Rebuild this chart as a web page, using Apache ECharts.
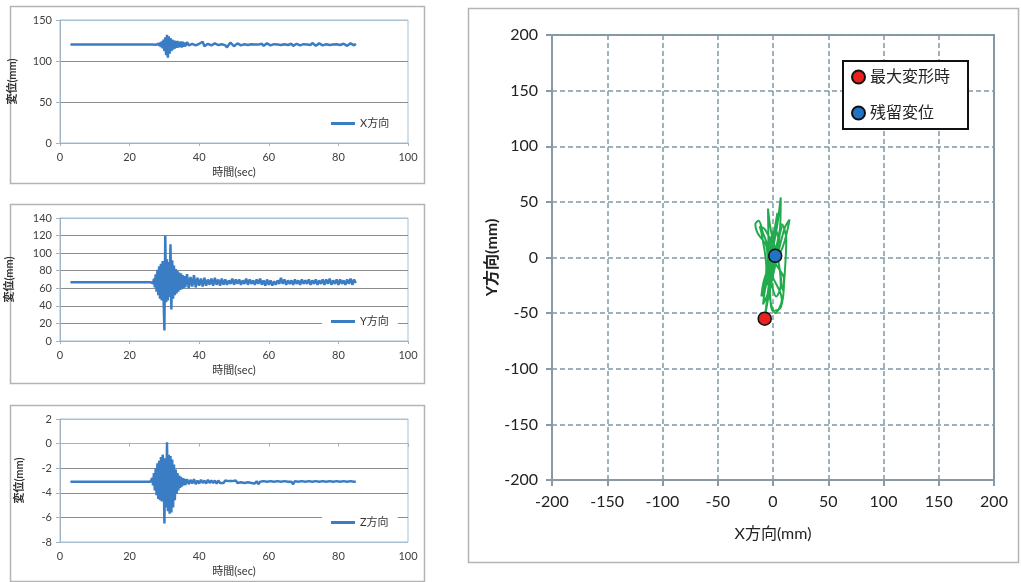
<!DOCTYPE html>
<html>
<head>
<meta charset="utf-8">
<script src="https://cdn.jsdelivr.net/npm/echarts@6/dist/echarts.min.js"></script>
<style>
  html, body { margin: 0; padding: 0; background: #fff; }
  #chart { width: 1021px; height: 582px; }
</style>
</head>
<body>
<div id="chart"></div>
<script>
// 時刻 (sec)
const timeSec = [3, 26,
  26.25, 26.5, 26.75, 27, 27.25, 27.5, 27.75, 28, 28.25, 28.5,
  28.75, 29, 29.25, 29.5, 29.75, 30, 30.25, 30.5, 30.75, 31,
  31.25, 31.5, 31.75, 32, 32.25, 32.5, 32.75, 33, 33.25, 33.5,
  33.75, 34, 34.25, 34.5, 34.75, 35, 35.25, 35.5, 35.75, 36,
  36.5, 37, 37.5, 38, 38.5, 39, 39.5, 40, 40.5, 41,
  41.5, 42, 42.5, 43, 43.5, 44, 44.5, 45, 45.5, 46,
  46.5, 47, 47.5, 48, 48.5, 49, 49.5, 50, 50.5, 51,
  51.5, 52, 52.5, 53, 53.5, 54, 54.5, 55, 55.5, 56,
  56.5, 57, 57.5, 58, 58.5, 59, 59.5, 60, 60.5, 61,
  61.5, 62, 62.5, 63, 63.5, 64, 64.5, 65, 65.5, 66,
  66.5, 67, 67.5, 68, 68.5, 69, 69.5, 70, 70.5, 71,
  71.5, 72, 72.5, 73, 73.5, 74, 74.5, 75, 75.5, 76,
  76.5, 77, 77.5, 78, 78.5, 79, 79.5, 80, 80.5, 81,
  81.5, 82, 82.5, 83, 83.5, 84, 84.5, 85]

// X方向 変位 (mm)
const xDisp = [120, 120,
  120, 120, 120, 120, 120.3, 119.7, 120.6, 119.3, 121, 118.5,
  122.5, 117, 124, 115.5, 126, 112, 129, 107, 132, 104,
  130, 109, 128, 112, 126, 114, 125, 115, 124.5, 116,
  124.5, 116.5, 123.5, 117, 124, 116.5, 123.5, 117.5, 122.5, 118,
  123, 119, 117.5, 121, 122.5, 119, 118, 121, 122, 123.5,
  118, 116.5, 121, 122.5, 119, 118, 121.5, 122, 119.5, 118,
  120.5, 122, 119, 116.5, 120, 122.5, 121, 118, 118.5, 121.5,
  122, 119, 118.5, 120.5, 121.5, 119.5, 118.5, 120.5, 122, 120,
  118.5, 120, 122, 121, 118.5, 119, 121.5, 121.5, 119, 118.5,
  120.5, 121.5, 120, 118.5, 119.5, 121.5, 120.5, 118.5, 119.5, 121.5,
  121, 118.5, 119, 121, 121.5, 119, 118.5, 120.5, 121.5, 120,
  118.5, 119.5, 122, 121, 118.5, 119, 121.5, 121, 119, 118.5,
  120.5, 121.5, 119.5, 118.5, 120, 121.5, 120.5, 118.5, 119.5, 121.5,
  121, 119, 118.5, 120.5, 121.5, 120, 119, 121]

// Y方向 変位 (mm)
const yDisp = [67, 67,
  67, 68, 65.5, 71, 61, 76, 56, 81, 52, 85,
  48, 88, 46, 91, 50, 12, 120, 44, 93, 46,
  90, 50, 110, 36, 92, 48, 86, 52, 82, 54,
  80, 56, 78, 58, 77, 59, 75, 60, 74, 61,
  76, 60, 73, 62, 75, 61, 72, 63, 71, 62,
  72, 63, 70, 64, 71, 63, 72, 64, 70, 63,
  71, 64, 70, 64, 69, 65, 71, 64, 70, 65,
  70, 64, 69, 65, 71, 64, 70, 65, 69, 64,
  70, 65, 71, 64, 69, 63, 70, 64, 69, 63,
  68, 64, 69, 65, 72, 65, 70, 64, 69, 65,
  69, 64, 70, 65, 69, 64, 70, 65, 69, 65,
  70, 64, 69, 65, 70, 64, 69, 65, 70, 64,
  70, 65, 71, 64, 69, 65, 70, 64, 70, 65,
  69, 64, 70, 65, 71, 64, 70, 66]

// Z方向 変位 (mm)
const zDisp = [-3.1, -3.1,
  -3.1, -2.8, -3.4, -2.4, -3.8, -2.0, -4.2, -1.6, -4.5, -1.4,
  -4.6, -1.1, -4.7, -0.9, -1.6, -6.5, -1.2, -5.2, 0.1, -5.5,
  -0.9, -5.7, -1.0, -5.6, -1.3, -5.2, -1.7, -4.6, -2.1, -4.1,
  -2.4, -3.8, -2.6, -3.6, -2.7, -3.5, -2.8, -3.4, -2.85, -3.35,
  -2.9, -3.3, -2.95, -3.25, -2.9, -3.3, -3.0, -3.25, -2.95, -3.2,
  -3.0, -3.25, -2.95, -3.2, -3.0, -3.2, -3.0, -3.25, -3.0, -3.2,
  -3.05, -3.2, -3.0, -3.15, -3.05, -3.2, -3.05, -3.15, -3.0, -3.2,
  -3.05, -3.15, -3.05, -3.2, -3.05, -3.15, -3.1, -3.2, -3.05, -3.25,
  -3.05, -3.3, -3.1, -3.15, -3.05, -3.15, -3.1, -3.2, -3.05, -3.15,
  -3.1, -3.15, -3.05, -3.2, -3.1, -3.15, -3.05, -3.15, -3.1, -3.2,
  -3.1, -3.3, -3.05, -3.15, -3.1, -3.15, -3.05, -3.15, -3.1, -3.15,
  -3.05, -3.15, -3.1, -3.15, -3.05, -3.15, -3.1, -3.15, -3.05, -3.1,
  -3.1, -3.15, -3.05, -3.1, -3.1, -3.15, -3.05, -3.1, -3.1, -3.15,
  -3.05, -3.1, -3.1, -3.15, -3.05, -3.1, -3.1, -3.1]

// 軌跡 (mm)
const orbitX = [0, 3, -2, 5, -4, 6, -6, 8, -9, 4, -7.5, -3, 10, 15, 9, -5, -9, -4, 6, 7,
  4, -2, 8, 2, -3, -6, -14, -16, -13, -9, 2, 10, 7, 0, -3, -4.5, -2, 6, 9, 10.5,
  12, 8, 3, -8, -10.5, -6, -10, -12, -7, 4, 7, 3, -2, 5, 2, -3, 3, -1, 2]
const orbitY = [0, 6, -8, 12, -15, 20, -25, 28, -35, 40, -55, -30, 25, 34, 10, -20, -42, -30, 20, 54,
  30, -10, -38, -50, -35, 10, 22, 30, 33, 22, -5, -20, -45, -48, -20, 44, 25, -10, -30, -16,
  16, 30, 10, -20, -35, -10, 20, 28, 25, 0, -25, -35, -15, 15, 25, 10, -8, 5, 2]

const maxPoint = [-7.5, -55]
const residualPoint = [2, 1.5]

const seriesNames = ['X方向', 'Y方向', 'Z方向']
const yRanges = [[0, 150, 50], [0, 140, 20], [-8, 2, 2]]

const font = 'Lato, "Noto Sans CJK JP", sans-serif'
const blue = '#3b7dc4'
const gridGray = '#8c8c8c'
const borderBlue = '#a9c1d3'

const pairs = (arr) => timeSec.map((t, i) => [t, arr[i]])

const smallTops = [20, 218, 419]
const legendTops = [114, 312, 513]
const nameGaps = [42, 45, 35]

const grids = smallTops.map(top => ({ left: 60, width: 348, top: top, height: 123, show: true, borderColor: borderBlue, borderWidth: 1 }))
grids.push({ left: 552, width: 442, top: 35, height: 445, show: true, borderColor: '#8a9aa4', borderWidth: 2 })

const xAxes = smallTops.map((_, i) => ({
  type: 'value', gridIndex: i, min: 0, max: 100, interval: 20,
  name: '時間(sec)', nameLocation: 'middle', nameGap: 24,
  nameTextStyle: { fontFamily: font, fontSize: 11, color: '#333' },
  axisLine: { lineStyle: { color: '#9fb3c2' } },
  axisTick: { show: true, length: 3, lineStyle: { color: '#9fb3c2' } },
  axisLabel: { fontFamily: font, fontSize: 11, color: '#404040', margin: 9 },
  splitLine: { show: false }
}))
xAxes.push({
  type: 'value', gridIndex: 3, min: -200, max: 200, interval: 50,
  name: 'X方向(mm)', nameLocation: 'middle', nameGap: 46,
  nameTextStyle: { fontFamily: font, fontSize: 16, color: '#222' },
  axisLine: { onZero: false, lineStyle: { color: '#8a9aa4', width: 2 } },
  axisTick: { show: true, length: 6, lineStyle: { color: '#8a9aa4', width: 2 } },
  axisLabel: { fontFamily: font, fontSize: 16, color: '#222', margin: 14 },
  splitLine: { show: true, lineStyle: { color: '#7f98a6', width: 1.5, type: [5, 3] } }
})

const yAxes = yRanges.map((r, i) => {
  const n = Math.round((r[1] - r[0]) / r[2]) + 1
  const colors = []
  for (let k = 0; k < n; k++) colors.push(k === 0 || k === n - 1 ? borderBlue : gridGray)
  return {
    type: 'value', gridIndex: i, min: r[0], max: r[1], interval: r[2],
    name: '変位(mm)', nameLocation: 'middle', nameGap: nameGaps[i],
    nameTextStyle: { fontFamily: font, fontSize: 11, color: '#333', fontWeight: 'bold' },
    axisLine: { show: true, onZero: false, lineStyle: { color: '#9fb3c2' } },
    axisTick: { show: true, length: 4, lineStyle: { color: '#9fb3c2' } },
    axisLabel: { fontFamily: font, fontSize: 11, color: '#404040', margin: 8 },
    splitLine: { show: true, lineStyle: { color: colors, width: 1 } }
  }
})
yAxes.push({
  type: 'value', gridIndex: 3, min: -200, max: 200, interval: 50,
  name: 'Y方向(mm)', nameLocation: 'middle', nameGap: 47,
  nameTextStyle: { fontFamily: font, fontSize: 16, color: '#222', fontWeight: 'bold' },
  axisLine: { show: true, onZero: false, lineStyle: { color: '#8a9aa4', width: 2 } },
  axisTick: { show: true, length: 6, lineStyle: { color: '#8a9aa4', width: 2 } },
  axisLabel: { fontFamily: font, fontSize: 16, color: '#222', margin: 14 },
  splitLine: { show: true, lineStyle: { color: '#7f98a6', width: 1.5, type: [5, 3] } }
})

const dispData = [xDisp, yDisp, zDisp]
const series = dispData.map((arr, i) => ({
  name: seriesNames[i], type: 'line', xAxisIndex: i, yAxisIndex: i,
  data: pairs(arr), showSymbol: false, symbol: 'none',
  lineStyle: { color: blue, width: 2.5 }, itemStyle: { color: blue }
}))
series.push({
  name: '軌跡', type: 'line', xAxisIndex: 3, yAxisIndex: 3,
  data: orbitX.map((x, i) => [x, orbitY[i]]), showSymbol: false, symbol: 'none', smooth: 0.35,
  lineStyle: { color: '#22ab4c', width: 2 }, itemStyle: { color: '#22ab4c' }, z: 3
})
series.push({
  name: '最大変形時', type: 'scatter', xAxisIndex: 3, yAxisIndex: 3, data: [maxPoint],
  symbolSize: 13, itemStyle: { color: '#e8201e', borderColor: '#111', borderWidth: 1.5, opacity: 1 }, z: 5
})
series.push({
  name: '残留変位', type: 'scatter', xAxisIndex: 3, yAxisIndex: 3, data: [residualPoint],
  symbolSize: 13, itemStyle: { color: '#2373c4', borderColor: '#111', borderWidth: 1.5, opacity: 1 }, z: 5
})

const legends = seriesNames.map((name, i) => ({
  data: [name], left: 322, top: legendTops[i], padding: [4, 9],
  backgroundColor: '#fff', icon: 'rect', itemWidth: 24, itemHeight: 3, itemGap: 0,
  textStyle: { fontFamily: font, fontSize: 11, color: '#333' },
  selectedMode: false
}))
legends.push({
  data: ['最大変形時', '残留変位'], orient: 'vertical', left: 843, top: 61,
  padding: [8, 18, 8, 8], itemGap: 20, itemWidth: 13, itemHeight: 13, icon: 'circle',
  backgroundColor: '#fff', borderColor: '#111', borderWidth: 2,
  textStyle: { fontFamily: font, fontSize: 16, color: '#222' },
  selectedMode: false
})

const frames = [
  [10, 6, 414, 177], [10, 204, 414, 179], [10, 405, 414, 176], [468, 8, 550, 554]
].map(f => ({
  type: 'rect', shape: { x: f[0] + 0.5, y: f[1] + 0.5, width: f[2], height: f[3] },
  style: { fill: 'none', stroke: '#b4b4b4', lineWidth: 1.5 }, z: -10, silent: true
}))

const chart = echarts.init(document.getElementById('chart'))
chart.setOption({
  animation: false,
  backgroundColor: '#fff',
  graphic: frames,
  grid: grids,
  xAxis: xAxes,
  yAxis: yAxes,
  legend: legends,
  series: series
})
</script>
</body>
</html>
